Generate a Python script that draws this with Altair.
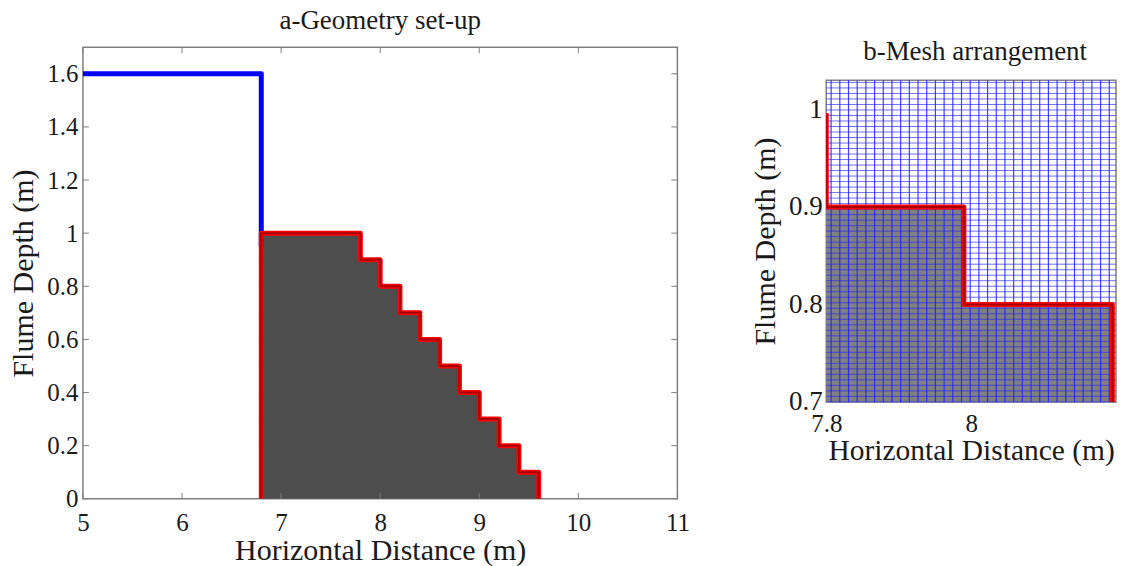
import altair as alt
import pandas as pd

FONT = "Liberation Serif"
LINE_RED = "#ff0000"
CORE_RED = "#a80000"

# Panel a
wall_x = [5, 6.8, 6.8]
wall_y = [1.6, 1.6, 0.95]
top_x = [6.8, 7.8, 8.0, 8.2, 8.4, 8.6, 8.8, 9.0, 9.2, 9.4, 9.6]
top_y = [1.0, 0.9, 0.8, 0.7, 0.6, 0.5, 0.4, 0.3, 0.2, 0.1, 0.0]
outline_x = [6.8, 6.8, 7.8, 7.8, 8.0, 8.0, 8.2, 8.2, 8.4, 8.4, 8.6, 8.6, 8.8, 8.8, 9.0, 9.0, 9.2, 9.2, 9.4, 9.4, 9.6, 9.6]
outline_y = [0, 1.0, 1.0, 0.9, 0.9, 0.8, 0.8, 0.7, 0.7, 0.6, 0.6, 0.5, 0.5, 0.4, 0.4, 0.3, 0.3, 0.2, 0.2, 0.1, 0.1, 0]
a_xticks = [5, 6, 7, 8, 9, 10, 11]
a_yticks = [0, 0.2, 0.4, 0.6, 0.8, 1, 1.2, 1.4, 1.6]

# Panel b
b_top_x = [7.8, 7.99, 8.195]
b_top_y = [0.9, 0.8, 0.8]
b_line_x = [7.8, 7.8, 7.99, 7.99, 8.195, 8.195]
b_line_y = [0.996, 0.9, 0.9, 0.8, 0.8, 0.7]
b_xticks = [7.8, 8]
b_yticks = [0.7, 0.8, 0.9, 1]
mesh_dx = 0.012
mesh_dy = 0.00565
mesh_x = [7.8067 + i * mesh_dx for i in range(33)]
mesh_y = [0.7 + i * mesh_dy for i in range(59)]

AW, AH = 595, 452
BW, BH = 290, 322
ax_dom = [5, 11]
ay_dom = [0, 1.7]
bx_dom = [7.8, 8.2]
by_dom = [0.7, 1.03]


def axis(values, title, size, pad, tpad, tsize=30):
    return alt.Axis(values=values, title=title, format="~g", grid=False, ticks=False,
                    domain=False, labelFont=FONT, labelFontSize=size, labelColor="#1a1a1a",
                    titleFont=FONT, titleFontSize=tsize, titleFontWeight="normal", titleColor="#1a1a1a",
                    labelPadding=pad, titlePadding=tpad, labelFlush=False, labelOverlap=False)


def ordered(xs, ys):
    return pd.DataFrame({"x": xs, "y": ys, "o": list(range(len(xs)))})


def path(xs, ys, xsc, ysc, color, width):
    return alt.Chart(ordered(xs, ys)).mark_line(color=color, strokeWidth=width, strokeJoin="round", clip=True).encode(
        x=alt.X("x:Q", scale=xsc), y=alt.Y("y:Q", scale=ysc), order="o:Q")


# panel a
sx = alt.Scale(domain=ax_dom, nice=False, zero=False)
sy = alt.Scale(domain=ay_dom, nice=False, zero=False)
a_area = alt.Chart(pd.DataFrame({"x": top_x, "y": top_y})).mark_area(
    color="#4d4d4d", interpolate="step-after", opacity=1).encode(
    x=alt.X("x:Q", scale=sx, axis=axis(a_xticks, "Horizontal Distance (m)", 25, 12, 0)),
    y=alt.Y("y:Q", scale=sy, axis=axis(a_yticks, "Flume Depth (m)", 25, 5, 8)),
)
tick = 6
a_b = alt.Chart(pd.DataFrame({"x": a_xticks})).mark_rule(color="#808080", strokeWidth=1).encode(
    x=alt.X("x:Q", scale=sx), y=alt.value(AH), y2=alt.value(AH - tick))
a_t = alt.Chart(pd.DataFrame({"x": a_xticks})).mark_rule(color="#808080", strokeWidth=1).encode(
    x=alt.X("x:Q", scale=sx), y=alt.value(0), y2=alt.value(tick))
a_l = alt.Chart(pd.DataFrame({"y": a_yticks})).mark_rule(color="#808080", strokeWidth=1).encode(
    y=alt.Y("y:Q", scale=sy), x=alt.value(0), x2=alt.value(tick))
a_r = alt.Chart(pd.DataFrame({"y": a_yticks})).mark_rule(color="#808080", strokeWidth=1).encode(
    y=alt.Y("y:Q", scale=sy), x=alt.value(AW), x2=alt.value(AW - tick))
panel_a = alt.layer(
    a_area, a_b, a_t, a_l, a_r,
    path(wall_x, wall_y, sx, sy, "#0000ff", 5),
    path(outline_x, outline_y, sx, sy, LINE_RED, 5),
    path(outline_x, outline_y, sx, sy, CORE_RED, 2),
).properties(width=AW, height=AH,
             title=alt.TitleParams("a-Geometry set-up", font=FONT, fontSize=27, fontWeight="normal",
                                   color="#1a1a1a", offset=12))

# panel b
bsx = alt.Scale(domain=bx_dom, nice=False, zero=False)
bsy = alt.Scale(domain=by_dom, nice=False, zero=False)
b_area = alt.Chart(pd.DataFrame({"x": b_top_x, "y": b_top_y})).mark_area(
    color="#808080", interpolate="step-after", opacity=1).encode(
    x=alt.X("x:Q", scale=bsx, axis=axis(b_xticks, "Horizontal Distance (m)", 25, 10, 0, 29.5)),
    y=alt.Y("y:Q", scale=bsy, axis=axis(b_yticks, "Flume Depth (m)", 27, 4, 8)),
    y2=alt.datum(0.7),
)
b_vmesh = alt.Chart(pd.DataFrame({"x": mesh_x})).mark_rule(color="#2020ff", strokeWidth=1.2, opacity=0.85).encode(
    x=alt.X("x:Q", scale=bsx))
b_hmesh = alt.Chart(pd.DataFrame({"y": mesh_y})).mark_rule(color="#2020ff", strokeWidth=1, opacity=0.65).encode(
    y=alt.Y("y:Q", scale=bsy))
panel_b = alt.layer(
    b_area, b_vmesh, b_hmesh,
    path(b_line_x, b_line_y, bsx, bsy, LINE_RED, 5),
    path(b_line_x, b_line_y, bsx, bsy, CORE_RED, 2),
).properties(width=BW, height=BH)

# the band above panel b carries its heading, so the panel can sit lower than panel a
b_head = alt.Chart(pd.DataFrame({"t": ["b-Mesh arrangement"]})).mark_text(
    font=FONT, fontSize=27, color="#1a1a1a", align="center", baseline="middle"
).encode(x=alt.value(149), y=alt.value(5), text="t:N").properties(
    width=BW, height=30, view=alt.ViewBackground(stroke="transparent"))

right = alt.vconcat(b_head, panel_b, spacing=0)

chart = alt.hconcat(panel_a, right, spacing=59).properties(
    padding={"left": 0, "top": -3, "right": 0, "bottom": 0}, background="white"
).configure_view(stroke="#808080", strokeWidth=1.5)

chart.save("out.html", embed_options={"renderer": "svg", "actions": False})
